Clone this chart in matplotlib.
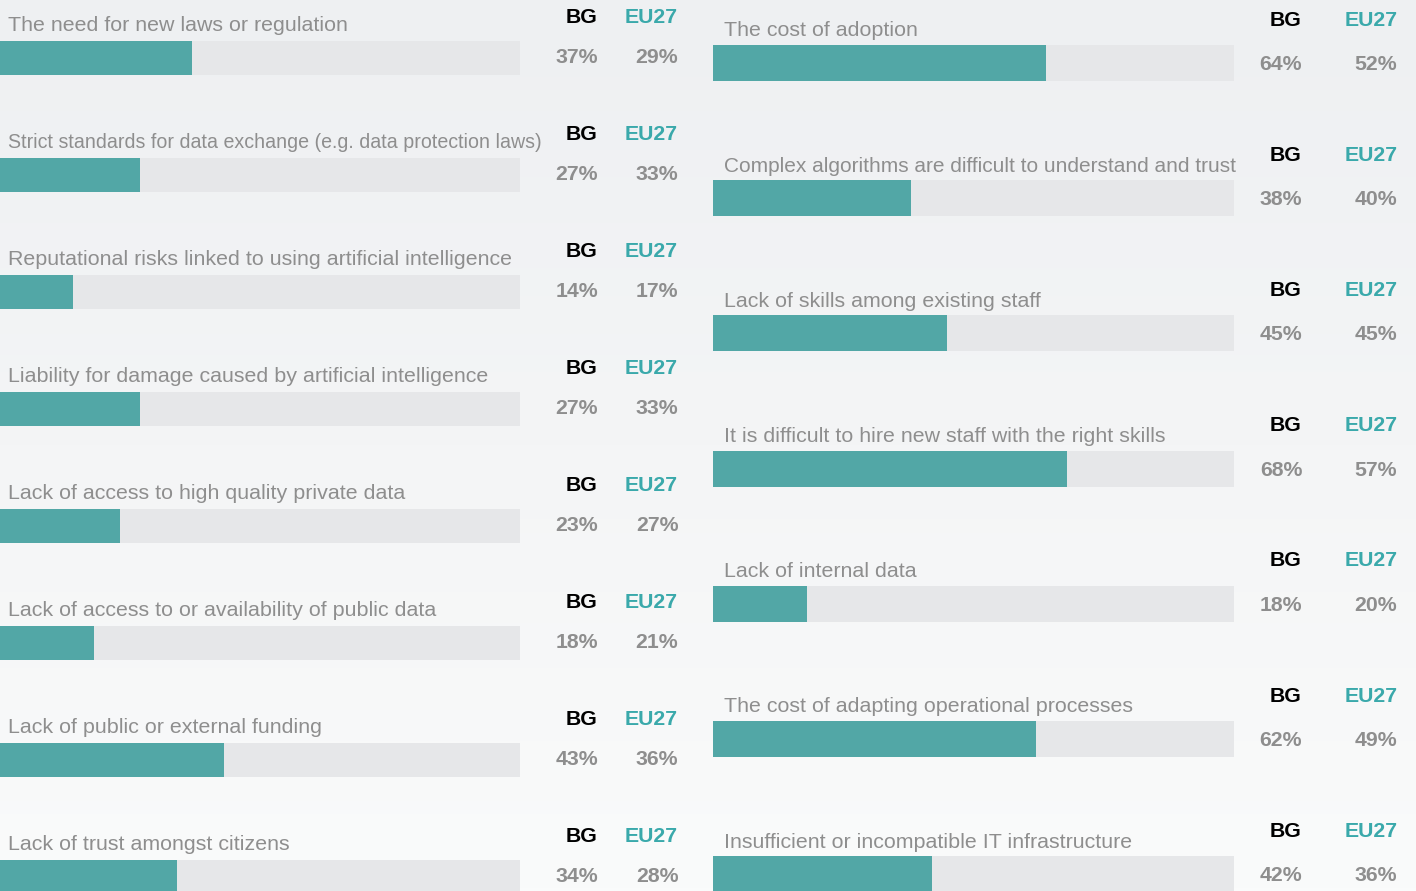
import numpy as np
import matplotlib.pyplot as plt
from matplotlib.colors import LinearSegmentedColormap

# Barriers to AI adoption: BG share vs EU27 share
left_labels = [
    "The need for new laws or regulation",
    "Strict standards for data exchange (e.g. data protection laws)",
    "Reputational risks linked to using artificial intelligence",
    "Liability for damage caused by artificial intelligence",
    "Lack of access to high quality private data",
    "Lack of access to or availability of public data",
    "Lack of public or external funding",
    "Lack of trust amongst citizens",
]
left_bg = [37, 27, 14, 27, 23, 18, 43, 34]
left_eu = [29, 33, 17, 33, 27, 21, 36, 28]

right_labels = [
    "The cost of adoption",
    "Complex algorithms are difficult to understand and trust",
    "Lack of skills among existing staff",
    "It is difficult to hire new staff with the right skills",
    "Lack of internal data",
    "The cost of adapting operational processes",
    "Insufficient or incompatible IT infrastructure",
]
right_bg = [64, 38, 45, 68, 18, 62, 42]
right_eu = [52, 40, 45, 57, 20, 49, 36]

TEAL = "#52a7a6"
TRACK = "#e6e7e9"
GREY = "#8e8e8e"
EU_COL = "#3aa9ab"
LAB_SIZE = 15.4
NUM_SIZE = 15.3

W, H = 1416, 891
fig = plt.figure(figsize=(W / 100, H / 100), dpi=100)
plt.rcParams["font.family"] = ["Liberation Sans", "DejaVu Sans"]

# soft vertical gradient behind everything
bg = fig.add_axes([0, 0, 1, 1], zorder=0)
grad = np.linspace(0, 1, 256)[:, None]
cmap = LinearSegmentedColormap.from_list("g", ["#eef0f2", "#f4f5f6", "#fafbfb"])
bg.imshow(grad, aspect="auto", cmap=cmap, extent=[0, 1, 0, 1], origin="upper")
bg.set_axis_off()

renderer = fig.canvas.get_renderer()


def panel(x0, width, top0, step, bh, labels, bg_vals, eu_vals, lab_dy, hdr_dy, pct_dy,
          bg_x, eu_x, pbg_x, peu_x, lab_x, lab_max):
    ax = fig.add_axes([x0 / W, 0, width / W, 1], zorder=1)
    ax.set_xlim(0, 100)
    ax.set_ylim(H, 0)
    ax.set_axis_off()
    sx = 100.0 / width
    for i, (lab, b, e) in enumerate(zip(labels, bg_vals, eu_vals)):
        top = top0 + step * i
        ax.barh(top + bh / 2, 100, height=bh, color=TRACK, zorder=1)
        ax.barh(top + bh / 2, b, height=bh, color=TEAL, zorder=2)
        t = ax.text((lab_x - x0) * sx, top + lab_dy, lab, color=GREY, fontsize=LAB_SIZE,
                    ha="left", va="center", clip_on=False)
        wpx = t.get_window_extent(renderer).width
        if wpx > lab_max:
            t.set_fontsize(LAB_SIZE * lab_max / wpx)
        ax.text((bg_x - x0) * sx, top + hdr_dy, "BG", color="black", fontsize=NUM_SIZE,
                fontweight="bold", ha="center", va="center", clip_on=False)
        ax.text((eu_x - x0) * sx, top + hdr_dy, "EU27", color=EU_COL, fontsize=NUM_SIZE,
                fontweight="bold", ha="center", va="center", clip_on=False)
        ax.text((pbg_x - x0) * sx, top + pct_dy, f"{b}%", color=GREY, fontsize=NUM_SIZE,
                fontweight="bold", ha="center", va="center", clip_on=False)
        ax.text((peu_x - x0) * sx, top + pct_dy, f"{e}%", color=GREY, fontsize=NUM_SIZE,
                fontweight="bold", ha="center", va="center", clip_on=False)
    return ax


panel(0, 520, 41, 117.0, 34, left_labels, left_bg, left_eu,
      lab_dy=-15.5, hdr_dy=-23.5, pct_dy=16.5, bg_x=582, eu_x=651, pbg_x=577, peu_x=657,
      lab_x=8, lab_max=529)
panel(713, 521, 45, 135.2, 36, right_labels, right_bg, right_eu,
      lab_dy=-14, hdr_dy=-25, pct_dy=19.5, bg_x=1286, eu_x=1371, pbg_x=1281, peu_x=1376,
      lab_x=724, lab_max=510)

fig.savefig("out.png", dpi=100)
